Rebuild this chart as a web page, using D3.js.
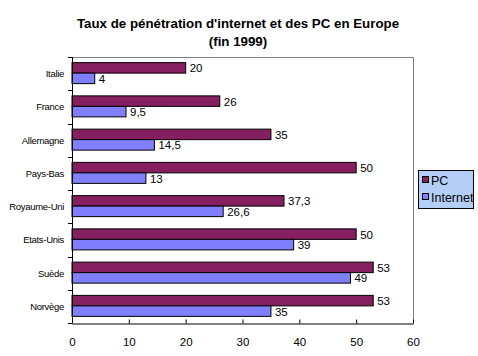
<!DOCTYPE html>
<html><head><meta charset="utf-8">
<script src="https://cdn.jsdelivr.net/npm/d3@7/dist/d3.min.js"></script>
<style>body{margin:0;background:#fff}svg{display:block;font-family:"Liberation Sans",Arial,sans-serif}</style>
</head><body><svg id="c" width="478" height="356"></svg>
<script>
const categories = ["Italie","France","Allemagne","Pays-Bas","Royaume-Uni","Etats-Unis","Suède","Norvège"];
const pcValues = [20,26,35,50,37.3,50,53,53];
const internetValues = [4,9.5,14.5,13,26.6,39,49,35];
const seriesNames = ["PC","Internet"];
const xTicks = [0,10,20,30,40,50,60];
const colors = ["#861f5f","#8080ff"];

(function(){
const svg = d3.select("#c");
const pl = 72, pr = 413, pt = 57, pb = 323;
const x = d3.scaleLinear().domain([0,60]).range([pl,pr]);
const y = d3.scaleBand().domain(categories).range([pt,pb]);
const fmt = v => String(v).replace(".", ",");

// title
svg.append("text").attr("x",238).attr("y",28).attr("text-anchor","middle")
  .attr("font-size",13.3).attr("font-weight","bold").text("Taux de pénétration d'internet et des PC en Europe");
svg.append("text").attr("x",238).attr("y",46).attr("text-anchor","middle")
  .attr("font-size",13.3).attr("font-weight","bold").text("(fin 1999)");

// plot border (top/right gray)
svg.append("path").attr("d",`M${pl},${pt+0.5}H${pr+0.5}V${pb}`)
  .attr("fill","none").attr("stroke","#808080").attr("stroke-width",1);

const bh = 10.5;
const g = svg.append("g");
categories.forEach((c,i)=>{
  const yc = y(c) + y.bandwidth()/2;
  [pcValues[i], internetValues[i]].forEach((v,s)=>{
    const yy = s===0 ? yc - bh - 0.5 : yc - 0.5;
    g.append("rect").attr("x",x(0)).attr("y",yy).attr("width",x(v)-x(0)).attr("height",bh)
      .attr("fill",colors[s]).attr("stroke","#000").attr("stroke-width",1);
    g.append("text").attr("x",x(v)+4).attr("y",yy+bh/2+4.5).attr("font-size",11.5)
      .attr("fill","#000").text(fmt(v));
  });
});

// y axis
svg.append("line").attr("x1",pl+0.5).attr("x2",pl+0.5).attr("y1",pt).attr("y2",pb).attr("stroke","#000");
const yt = [pt, ...categories.map(c=>y(c)+y.bandwidth())];
yt.forEach(t=>svg.append("line").attr("x1",pl-4).attr("x2",pl+0.5).attr("y1",Math.round(t)+0.5).attr("y2",Math.round(t)+0.5).attr("stroke","#000"));
categories.forEach(c=>svg.append("text").attr("x",64).attr("y",y(c)+y.bandwidth()/2+3.5)
  .attr("text-anchor","end").attr("font-size",9.5).attr("letter-spacing","-0.3").text(c));

// x axis
const xa = svg.append("g").attr("transform",`translate(0,${pb+0.5})`)
  .call(d3.axisBottom(x).tickValues(xTicks).tickSize(4).tickSizeOuter(0).tickPadding(10));
xa.selectAll("path,line").attr("stroke","#000");
xa.selectAll("text").attr("font-size",11.5).attr("font-family","Liberation Sans, Arial, sans-serif").attr("fill","#000");
xa.selectAll(".tick line").attr("y1",-4).attr("y2",0);

// legend
const lg = svg.append("g");
lg.append("rect").attr("x",418.5).attr("y",170.5).attr("width",55).attr("height",38)
  .attr("fill","#b3cff5").attr("stroke","#000");
seriesNames.forEach((n,i)=>{
  lg.append("rect").attr("x",422.5).attr("y",176.5+i*17).attr("width",6).attr("height",6)
    .attr("fill",colors[i]).attr("stroke","#000");
  lg.append("text").attr("x",431).attr("y",184.5+i*17).attr("font-size",12.5).text(n);
});
})();
</script></body></html>
